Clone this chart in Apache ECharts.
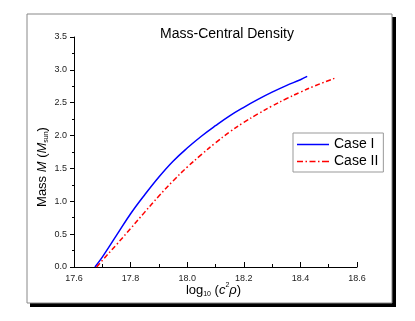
<!DOCTYPE html>
<html><head><meta charset="utf-8">
<script src="https://cdn.jsdelivr.net/npm/echarts@6/dist/echarts.min.js"></script>
<style>html,body{margin:0;padding:0;background:#fff}#c{width:415px;height:321px}</style>
</head><body><div id="c"></div>
<script>
const titleText = 'Mass-Central Density';
const seriesNames = ['Case I', 'Case II'];
const caseI_x = [17.674, 17.70, 17.75, 17.80, 17.85, 17.90, 17.95, 18.00, 18.05, 18.10, 18.15, 18.20, 18.25, 18.30, 18.35, 18.40, 18.424];
const caseI_y = [0, 0.15, 0.48, 0.81, 1.10, 1.37, 1.61, 1.81, 1.99, 2.15, 2.30, 2.43, 2.55, 2.66, 2.76, 2.85, 2.90];
const caseII_x = [17.68, 17.70, 17.75, 17.80, 17.85, 17.90, 17.95, 18.00, 18.05, 18.10, 18.15, 18.20, 18.25, 18.30, 18.35, 18.40, 18.45, 18.52];
const caseII_y = [0, 0.10, 0.34, 0.585, 0.835, 1.08, 1.31, 1.52, 1.71, 1.89, 2.055, 2.20, 2.33, 2.45, 2.56, 2.66, 2.755, 2.87];
const xTicks = [17.6, 17.8, 18.0, 18.2, 18.4, 18.6];
const yTicks = [0, 0.5, 1.0, 1.5, 2.0, 2.5, 3.0, 3.5];

const FONT = 'Liberation Sans, Arial, sans-serif';
const chart = echarts.init(document.getElementById('c'), null, {renderer: 'canvas'});
const pairs = (xs, ys) => xs.map((x, i) => [x, ys[i]]);
const richName = {
  n: {fontFamily: FONT, fontSize: 13, color: '#000', verticalAlign: 'middle', lineHeight: 16},
  i: {fontFamily: FONT, fontSize: 13, color: '#000', fontStyle: 'italic', verticalAlign: 'middle', lineHeight: 16},
  sub: {fontFamily: FONT, fontSize: 7, color: '#000', verticalAlign: 'bottom', lineHeight: 16},
  sup: {fontFamily: FONT, fontSize: 7, color: '#000', verticalAlign: 'top', lineHeight: 16}
};
const solidIcon = 'path://M0,0h32v1.5h-32z';
const dashDotIcon = 'path://M0,0h6v1.5h-6z M8.5,0h1.5v1.5h-1.5z M12.5,0h6v1.5h-6z M21,0h1.5v1.5h-1.5z M25,0h6v1.5h-6z M31,0h1v1.5h-1z';
chart.setOption({
  animation: false,
  backgroundColor: '#fff',
  textStyle: {fontFamily: FONT},
  graphic: [
    {type: 'rect', z: -10, shape: {x: 30, y: 17, width: 366, height: 290}, style: {fill: '#000'}},
    {type: 'rect', z: -9, shape: {x: 27, y: 14, width: 365, height: 289}, style: {fill: '#fff', stroke: '#888', lineWidth: 1}}
  ],
  title: {
    text: titleText, left: 222, top: 22, textAlign: 'center',
    textStyle: {fontFamily: FONT, fontSize: 14, fontWeight: 'normal', color: '#000'}
  },
  legend: {
    orient: 'vertical', left: 293, top: 133,
    borderColor: '#999', borderWidth: 1, padding: [4, 5, 3, 4],
    itemWidth: 32, itemHeight: 1.5, itemGap: 2,
    textStyle: {fontFamily: FONT, fontSize: 14, color: '#000', lineHeight: 15},
    data: [{name: seriesNames[0], icon: solidIcon}, {name: seriesNames[1], icon: dashDotIcon}]
  },
  grid: {left: 74, right: 58, top: 37, bottom: 54},
  xAxis: {
    type: 'value', min: 17.6, max: 18.6, interval: 0.2,
    axisLine: {lineStyle: {color: '#000', width: 1}},
    axisTick: {inside: true, length: 5, lineStyle: {color: '#000'}},
    minorTick: {show: true, splitNumber: 2, length: 3, lineStyle: {color: '#000'}},
    splitLine: {show: false},
    axisLabel: {fontFamily: FONT, fontSize: 9, color: '#222', margin: 7, formatter: v => v.toFixed(1)},
    name: '{n|log}{sub|10}{n| (}{i|c}{sup|2}{i|ρ}{n|)}', nameLocation: 'middle', nameGap: 15,
    nameMoveOverlap: false,
    nameTextStyle: {fontFamily: FONT, fontSize: 13, color: '#000', padding: [0, 4, 0, 0], rich: richName}
  },
  yAxis: {
    type: 'value', min: 0, max: 3.5, interval: 0.5,
    axisLine: {lineStyle: {color: '#000', width: 1}},
    axisTick: {inside: false, length: 4, lineStyle: {color: '#000'}},
    minorTick: {show: true, splitNumber: 2, length: 2, lineStyle: {color: '#000'}},
    splitLine: {show: false},
    axisLabel: {fontFamily: FONT, fontSize: 9, color: '#222', margin: 7, formatter: v => v.toFixed(1)},
    name: '{n|Mass }{i|M}{n| (}{i|M}{sub|sun}{n|)}', nameLocation: 'middle', nameGap: 24,
    nameMoveOverlap: false,
    nameTextStyle: {fontFamily: FONT, fontSize: 13, color: '#000', padding: [0, 30, 0, 0], rich: richName}
  },
  series: [
    {name: seriesNames[0], type: 'line', data: pairs(caseI_x, caseI_y), smooth: 0.4, symbol: 'none',
     lineStyle: {color: '#0000ff', width: 1.5}, itemStyle: {color: '#0000ff'}},
    {name: seriesNames[1], type: 'line', data: pairs(caseII_x, caseII_y), smooth: 0.4, symbol: 'none',
     lineStyle: {color: '#ff0000', width: 1.5, type: [5, 2.5, 1.5, 2.5]}, itemStyle: {color: '#ff0000'}}
  ]
});
</script></body></html>
